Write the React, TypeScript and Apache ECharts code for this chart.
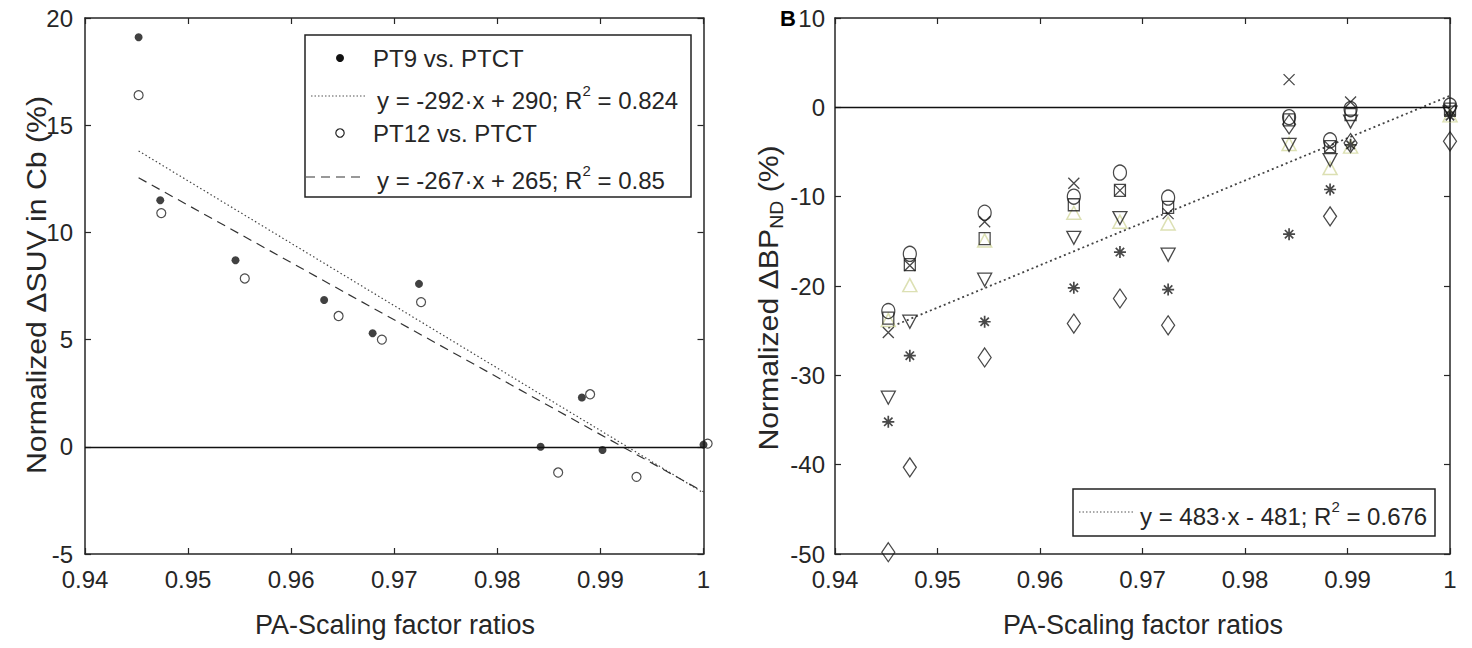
import React, { useEffect, useRef } from 'react';
import * as echarts from 'echarts';

// ---------- data ----------
const xTickValues = [0.94, 0.95, 0.96, 0.97, 0.98, 0.99, 1];

// Panel A
const pt9X = [0.9452, 0.9473, 0.9546, 0.9632, 0.9679, 0.9724, 0.9842, 0.9882, 0.9902, 1.0];
const pt9Y = [19.1, 11.5, 8.7, 6.85, 5.3, 7.6, 0.0, 2.3, -0.15, 0.1];
const pt12X = [0.9452, 0.9474, 0.9555, 0.9646, 0.9688, 0.9726, 0.9859, 0.989, 0.9935, 1.0004];
const pt12Y = [16.4, 10.9, 7.85, 6.1, 5.0, 6.75, -1.2, 2.45, -1.4, 0.15];
const fit9X = [0.9452, 1.0];
const fit9Y = [13.8, -2.15];
const fit12X = [0.9452, 1.0];
const fit12Y = [12.55, -2.1];

// Panel B
const bpX = [0.9452, 0.9473, 0.9546, 0.9633, 0.9678, 0.9725, 0.9843, 0.9883, 0.9903, 1.0];
const bpCircle = [-22.8, -16.4, -11.8, -10.0, -7.3, -10.1, -1.1, -3.7, -0.2, 0.2];
const bpCross = [-25.2, -17.7, -12.8, -8.5, -9.3, -11.9, 3.1, -4.4, 0.6, -0.3];
const bpSquare = [-23.6, -17.6, -14.7, -10.9, -9.3, -11.2, -1.4, -4.4, -0.8, -0.2];
const bpTriUp = [-23.8, -19.9, -14.9, -11.8, -12.8, -13.0, -4.1, -6.8, -4.4, -0.9];
const bpTriDown = [-32.5, -24.0, -19.3, -14.6, -12.4, -16.5, -4.2, -5.9, -1.6, -0.6];
const bpAsterisk = [-35.2, -27.8, -24.0, -20.2, -16.2, -20.4, -14.2, -9.2, -4.2, -1.0];
const bpDiamond = [-49.8, -40.3, -28.0, -24.2, -21.4, -24.4, -1.9, -12.2, -4.0, -3.8];
const fitBpX = [0.9452, 1.0];
const fitBpY = [-24.7, 1.3];

const legendA = ['PT9 vs. PTCT', 'y = -292·x + 290; R{sup|2} = 0.824', 'PT12 vs. PTCT', 'y = -267·x + 265; R{sup|2} = 0.85'];
const legendB = ['y = 483·x - 481; R{sup|2} = 0.676'];

// ---------- styles ----------
const FONT = '"Liberation Sans", Arial, Helvetica, sans-serif';
const AX = '#262626';
const INK = '#1a1a1a';

const pair = (xs: number[], ys: number[]) => xs.map((x, i) => [x, ys[i]]);
const fmt = (v: number) => String(+v.toFixed(2));

function xAxesFor(gridIndex: number) {
  const base = {
    type: 'value', gridIndex, min: 0.94, max: 1, interval: 0.01,
    axisLine: { show: true, onZero: false, lineStyle: { color: AX, width: 1.5 } },
    axisTick: { show: true, inside: true, length: 6, lineStyle: { color: AX, width: 1.2 } },
    splitLine: { show: false },
  };
  return [
    { ...base, position: 'bottom',
      axisLabel: { color: AX, fontSize: 24, fontFamily: FONT, margin: 13, formatter: fmt,
        customValues: xTickValues } },
    { ...base, position: 'top', axisLabel: { show: false } },
  ];
}
function yAxesFor(gridIndex: number, min: number, max: number, interval: number, margin: number) {
  const base = {
    type: 'value', gridIndex, min, max, interval,
    axisLine: { show: true, onZero: false, lineStyle: { color: AX, width: 1.5 } },
    axisTick: { show: true, inside: true, length: 6, lineStyle: { color: AX, width: 1.2 } },
    splitLine: { show: false },
  };
  return [
    { ...base, position: 'left', axisLabel: { color: AX, fontSize: 24, fontFamily: FONT, margin } },
    { ...base, position: 'right', axisLabel: { show: false } },
  ];
}

function markerSeries(name: string, ys: number[], symbol: string, size: any, color: string, rotate = 0, width = 1.3) {
  return {
    type: 'scatter', name, xAxisIndex: 2, yAxisIndex: 2, clip: false,
    data: pair(bpX, ys), symbol, symbolSize: size, symbolRotate: rotate,
    itemStyle: { color: 'rgba(0,0,0,0)', borderColor: color, borderWidth: width },
    z: 3,
  };
}

const CROSS = 'path://M0,0L10,10M10,0L0,10';
const ASTER = 'path://M5,0L5,10M0,5L10,5M1.5,1.5L8.5,8.5M8.5,1.5L1.5,8.5';

export default function App() {
  const ref = useRef<HTMLDivElement>(null);
  useEffect(() => {
    const chart = echarts.init(ref.current!, null, { renderer: 'svg' });
    const txt = (text: string, x: number, y: number, extra: any = {}) => ({
      type: 'text', x, y, z: 20,
      style: { text, fill: AX, fontSize: 24, fontFamily: FONT, verticalAlign: 'middle', align: 'left',
        lineHeight: 34, rich: { sup: { fontSize: 15, verticalAlign: 'top', lineHeight: 15, fill: AX, fontFamily: FONT } },
        ...extra },
    });
    const option: any = {
      animation: false,
      backgroundColor: '#ffffff',
      grid: [
        { left: 85, right: 1472 - 703.5, top: 18, bottom: 648 - 554 },
        { left: 835, right: 1472 - 1450, top: 18, bottom: 648 - 554 },
      ],
      xAxis: [...xAxesFor(0), ...xAxesFor(1)],
      yAxis: [...yAxesFor(0, -5, 20, 5, 12), ...yAxesFor(1, -50, 10, 10, 10)],
      series: [
        {
          type: 'scatter', name: 'PT9 vs. PTCT', xAxisIndex: 0, yAxisIndex: 0, clip: false,
          data: pair(pt9X, pt9Y), symbol: 'circle', symbolSize: 8,
          itemStyle: { color: '#111' }, z: 3,
          markLine: { silent: true, symbol: 'none', label: { show: false },
            lineStyle: { color: '#111', type: 'solid', width: 1.3 }, data: [{ yAxis: 0 }] },
        },
        {
          type: 'scatter', name: 'PT12 vs. PTCT', xAxisIndex: 0, yAxisIndex: 0, clip: false,
          data: pair(pt12X, pt12Y), symbol: 'circle', symbolSize: 9,
          itemStyle: { color: 'rgba(0,0,0,0)', borderColor: '#222', borderWidth: 1.2 }, z: 3,
        },
        {
          type: 'line', name: 'fit PT9', xAxisIndex: 0, yAxisIndex: 0, data: pair(fit9X, fit9Y),
          showSymbol: false, symbol: 'none', lineStyle: { color: '#444', width: 1.2, type: [1.5, 2.5] }, z: 2,
        },
        {
          type: 'line', name: 'fit PT12', xAxisIndex: 0, yAxisIndex: 0, data: pair(fit12X, fit12Y),
          showSymbol: false, symbol: 'none', lineStyle: { color: '#333', width: 1.2, type: [9, 6] }, z: 2,
        },
        {
          type: 'line', name: 'fit BP', xAxisIndex: 2, yAxisIndex: 2, data: pair(fitBpX, fitBpY),
          showSymbol: false, symbol: 'none', lineStyle: { color: '#444', width: 1.8, type: [2, 3] }, z: 2,
          markLine: { silent: true, symbol: 'none', label: { show: false },
            lineStyle: { color: '#111', type: 'solid', width: 1.3 }, data: [{ yAxis: 0 }] },
        },
        markerSeries('triangle-up', bpTriUp, 'triangle', [14, 13], '#d3d8a0', 0, 1.5),
        markerSeries('circle', bpCircle, 'circle', [13, 15], INK),
        markerSeries('cross', bpCross, CROSS, [11, 11], INK),
        markerSeries('square', bpSquare, 'rect', [11, 12], INK),
        markerSeries('triangle-down', bpTriDown, 'triangle', [14, 13], INK, 180),
        markerSeries('asterisk', bpAsterisk, ASTER, [12, 12], INK, 0, 1.7),
        markerSeries('diamond', bpDiamond, 'diamond', [13, 19], INK),
      ],
      graphic: [
        // Panel A legend
        { type: 'rect', z: 15, shape: { x: 305, y: 35, width: 386, height: 162 },
          style: { fill: '#fff', stroke: '#222', lineWidth: 1.5 } },
        { type: 'circle', z: 20, shape: { cx: 340, cy: 58, r: 4 }, style: { fill: '#111' } },
        txt(legendA[0], 373, 58),
        { type: 'line', z: 20, shape: { x1: 311, y1: 96, x2: 366, y2: 96 },
          style: { stroke: '#555', lineWidth: 1.2, lineDash: [1.5, 2] } },
        txt(legendA[1], 377, 100),
        { type: 'circle', z: 20, shape: { cx: 340, cy: 133, r: 4.2 },
          style: { fill: 'none', stroke: '#222', lineWidth: 1.2 } },
        txt(legendA[2], 373, 133),
        { type: 'line', z: 20, shape: { x1: 306, y1: 177, x2: 364, y2: 177 },
          style: { stroke: '#333', lineWidth: 1.2, lineDash: [9, 6] } },
        txt(legendA[3], 377, 180),
        // Panel B legend
        { type: 'rect', z: 15, shape: { x: 1073, y: 489, width: 362, height: 47 },
          style: { fill: '#fff', stroke: '#222', lineWidth: 1.5 } },
        { type: 'line', z: 20, shape: { x1: 1079, y1: 512, x2: 1135, y2: 512 },
          style: { stroke: '#555', lineWidth: 1.2, lineDash: [1.5, 2] } },
        txt(legendB[0], 1140, 516),
        // panel letter
        { type: 'text', x: 780, y: 18, z: 20,
          style: { text: 'B', fill: '#000', fontSize: 22, fontWeight: 'bold', fontFamily: FONT, verticalAlign: 'middle' } },
        // axis titles
        { type: 'text', x: 395, y: 625, z: 20,
          style: { text: 'PA-Scaling factor ratios', fill: AX, fontSize: 27, fontFamily: FONT, align: 'center', verticalAlign: 'middle' } },
        { type: 'text', x: 1143, y: 625, z: 20,
          style: { text: 'PA-Scaling factor ratios', fill: AX, fontSize: 27, fontFamily: FONT, align: 'center', verticalAlign: 'middle' } },
        { type: 'text', x: 36, y: 285, z: 20, rotation: Math.PI / 2, scaleX: 1.08,
          style: { text: 'Normalized ΔSUV in Cb (%)', fill: AX, fontSize: 28, fontFamily: FONT, align: 'center', verticalAlign: 'middle' } },
        { type: 'text', x: 768, y: 298, z: 20, rotation: Math.PI / 2, scaleX: 1.08,
          style: { text: 'Normalized ΔBP{sub|ND} (%)', fill: AX, fontSize: 28, fontFamily: FONT, align: 'center', verticalAlign: 'middle',
            lineHeight: 36, rich: { sub: { fontSize: 18, verticalAlign: 'bottom', lineHeight: 18, fill: AX, fontFamily: FONT } } } },
      ],
    };
    chart.setOption(option);
    return () => chart.dispose();
  }, []);
  return <div ref={ref} style={{ position: 'absolute', left: 0, top: 0, width: 1472, height: 648, background: '#fff' }} />;
}
